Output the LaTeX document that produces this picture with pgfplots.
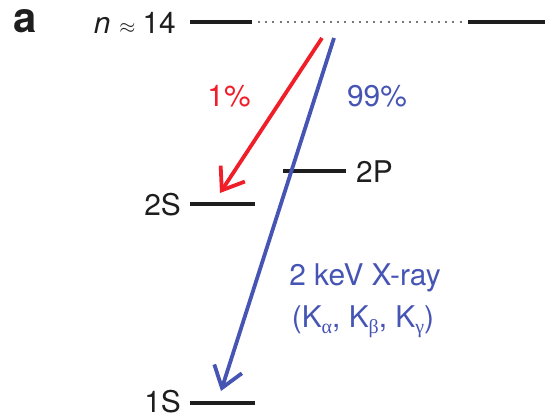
\documentclass[border=0pt]{standalone}
\usepackage{pgfplots}
\pgfplotsset{compat=1.18}
\usepackage{fontspec}
\setmainfont{TeX Gyre Heros}
\newfontfamily\grk{Liberation Serif}
\usetikzlibrary{arrows.meta}
\definecolor{myred}{RGB}{240,30,40}
\definecolor{myblue}{RGB}{70,85,180}
\definecolor{mytxt}{RGB}{30,30,30}
\tikzset{lab/.style={font=\fontsize{30}{32}\selectfont, inner sep=0pt, text=mytxt}}
\newcommand{\sub}[1]{\raisebox{-6bp}{\fontsize{20}{20}\selectfont\grk #1}}
\begin{document}
\begin{tikzpicture}
\begin{axis}[
  scale only axis, width=545bp, height=419bp,
  xmin=0, xmax=545, ymin=0, ymax=419, y dir=reverse,
  hide axis, clip=false,
]
% levels
\addplot[line width=3.5bp, mytxt] coordinates {(190,22) (252,22)};
\addplot[line width=1.8bp, mytxt!60, dash pattern=on 2bp off 5.2bp] coordinates {(258,22) (464,22)};
\addplot[line width=3.5bp, mytxt] coordinates {(468,22) (545,22)};
\addplot[line width=3.5bp, mytxt] coordinates {(283,171) (346,171)};
\addplot[line width=3.5bp, mytxt] coordinates {(190,204) (255,204)};
\addplot[line width=3.5bp, mytxt] coordinates {(190,403) (255,403)};
% transitions
\addplot[line width=3.8bp, myred, -{Straight Barb[length=20bp,width=29bp]}] coordinates {(322,38) (220,193)};
\addplot[line width=3.8bp, myblue, -{Straight Barb[length=20bp,width=29bp]}] coordinates {(334,38) (221,391)};
% labels
\node[lab, font=\fontsize{42}{44}\selectfont\bfseries, anchor=base west] at (axis cs:13,33) {a};
\node[lab, anchor=east] at (axis cs:176,23) {\textit{n}\hspace{9bp}{\fontsize{22}{24}\selectfont$\approx$}\hspace{7bp}14};
\node[lab, anchor=west] at (axis cs:356,172) {2P};
\node[lab, anchor=east] at (axis cs:181,205) {2S};
\node[lab, anchor=east] at (axis cs:181,402) {1S};
\node[lab, text=myred] at (axis cs:229,96) {1\%};
\node[lab, text=myblue] at (axis cs:377,96) {99\%};
\node[lab, text=myblue] at (axis cs:365,278) {2 keV X-ray};
\node[lab, text=myblue] at (axis cs:363,322) {(K\sub{α}, K\sub{β}, K\sub{γ})};
\end{axis}
\pgfresetboundingbox
\path[use as bounding box] (current axis.south west) rectangle (current axis.north east);
\end{tikzpicture}
\end{document}
